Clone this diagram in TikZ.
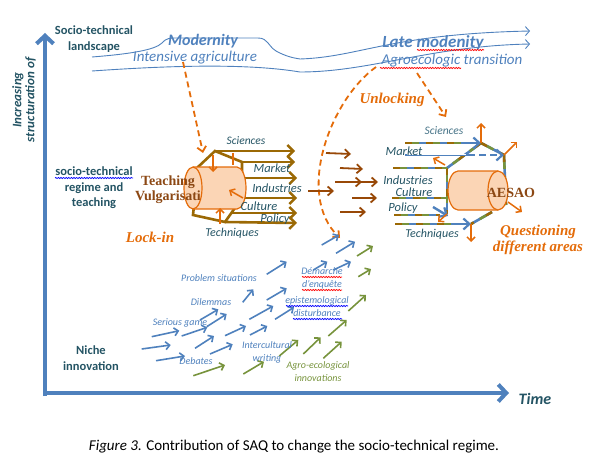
\documentclass[tikz,border=0pt]{standalone}
\usepackage{fontspec}
\setmainfont{Carlito}
\newfontfamily\cambria{Liberation Serif}
\usetikzlibrary{arrows.meta,decorations.pathmorphing}
\definecolor{axisblue}{RGB}{79,129,189}
\definecolor{darkteal}{RGB}{36,84,100}
\definecolor{softteal}{RGB}{70,115,135}
\definecolor{lockorange}{RGB}{228,108,10}
\definecolor{peach}{RGB}{251,213,181}
\definecolor{prism}{RGB}{155,105,5}
\definecolor{rust}{RGB}{152,72,7}
\definecolor{leaf}{RGB}{119,147,60}
\definecolor{serifbrown}{RGB}{140,72,20}
\newcommand\setsz[1]{\fontsize{#1}{#1}\selectfont}
\begin{document}
\begin{tikzpicture}[x=1pt,y=-1pt,
		axis/.style={line width=4.5pt,axisblue,-{Straight Barb[length=8pt,width=17pt,line width=4pt]}},
		band/.style={line width=0.9pt,axisblue,-{Straight Barb[length=4pt,width=9pt,line width=0.9pt]}},
		push/.style={line width=1.8pt,lockorange,dash pattern=on 6pt off 4pt,-{Straight Barb[length=5pt,width=9pt,line width=1.8pt]}},
		spike/.style={line width=1.5pt,lockorange,-{Straight Barb[length=4pt,width=8pt,line width=1.5pt]}},
		regime/.style={line width=2.6pt,prism,-{Straight Barb[length=6pt,width=12pt,line width=2.4pt]}},
		drift/.style={line width=1.8pt,rust,-{Straight Barb[length=5pt,width=9pt,line width=1.8pt]}},
		mix/.style={line width=2.6pt,axisblue,postaction={draw=prism,dash pattern=on 7pt off 14pt},postaction={draw=leaf,dash pattern=on 7pt off 14pt,dash phase=14pt}},
		bluehead/.style={line width=2.4pt,axisblue,-{Straight Barb[length=6pt,width=11pt,line width=2.2pt]}},
		seedb/.style={line width=1.6pt,axisblue,-{Straight Barb[length=4pt,width=8pt,line width=1.6pt]}},
		seedg/.style={line width=1.6pt,leaf,-{Straight Barb[length=4pt,width=8pt,line width=1.6pt]}},
		wavy/.style={decorate,decoration={snake,amplitude=0.6pt,segment length=2.6pt},line width=0.7pt},
		cyl/.style={draw=lockorange,fill=peach,line width=1.2pt},
		lbl/.style={font=\itshape\setsz{12.5},darkteal,inner sep=0pt},
		niche/.style={font=\itshape\setsz{10},axisblue,inner sep=0pt},
		title/.style={font=\bfseries\setsz{12.5},darkteal,align=center,inner sep=0pt},
		hint/.style={font=\cambria\bfseries\itshape\setsz{15},lockorange,align=center,inner sep=0pt}]
	\useasboundingbox (0,0) rectangle (596,465);

	% axes
	\coordinate (origin) at (45,393);
	\draw[axis] (45,396) -- (45,33);
	\draw[axis] (43,393) -- (509,393);
	\node[rotate=90,align=center,font=\bfseries\itshape\setsz{13},darkteal] (yaxis) at (24,100) {Increasing\\structuration of};
	\node[font=\bfseries\itshape\setsz{16},darkteal,inner sep=0pt] (time) at (535,399) {Time};

	% landscape
	\node[title] (land) at (94,39) {Socio-technical\\[3pt]landscape};
	\draw[band] (92,57) .. controls (130,54) and (155,50) .. (162,43) .. controls (166,38) and (170,38) .. (178,38) -- (258,38) .. controls (268,38) and (268,46) .. (276,51) .. controls (285,56) and (293,58) .. (300,59) .. controls (360,57) and (390,34) .. (530,31);
	\draw[band] (92,71) .. controls (150,67) and (240,62) .. (300,72) .. controls (370,72) and (430,46) .. (530,44);
	\node[font=\bfseries\itshape\setsz{16},axisblue,inner sep=0pt] (modern) at (203,41) {Modernity};
	\node[font=\itshape\setsz{15},axisblue,inner sep=0pt] (intens) at (195,58) {Intensive agriculture};
	\node[font=\bfseries\itshape\setsz{17},axisblue,inner sep=0pt] (late) at (433,43) {Late modenity};
	\node[font=\itshape\setsz{15},axisblue,inner sep=0pt] (agro) at (452,61) {Agroecologic transition};
	\draw[wavy,red] (417,50) -- (484,50);
	\draw[wavy,red] (380,68) -- (461,68);

	% pressure from landscape
	\draw[push] (183,62) -- (203,153);
	\draw[push] (376,67) .. controls (330,100) and (295,195) .. (340,238);
	\draw[push] (417,73) -- (446,117);
	\node[hint] (unlock) at (392,100) {Unlocking};
	\node[hint] (lockin) at (150,237) {Lock-in};
	\node[hint] (question) at (538,240) {Questioning\\[1pt]different areas};

	% regime and teaching
	\node[title] (regime) at (94,188) {socio-technical\\[3pt]regime and\\[3pt]teaching};
	\draw[wavy,blue] (55,178) -- (133,178);
	\draw[line width=2.6pt,prism] (215,151) -- (242,162) -- (242,198) -- (225,222) -- (193,215) -- (198,167) -- cycle;
	\draw[regime] (215,151) -- (295,151);
	\draw[regime] (242,162) -- (295,162);
	\draw[regime] (242,178) -- (297,178);
	\draw[regime] (242,198) -- (297,198);
	\draw[regime] (232,213) -- (297,213);
	\draw[regime] (225,222) -- (297,223);
	\draw[cyl] (193,167) -- (237,167) arc (-90:90:9 and 21) -- (193,209);
	\draw[cyl] (193,188) ellipse (9 and 21);
	\draw[spike] (213,155) -- (213,172);
	\draw[line width=1.5pt,lockorange] (233,153) -- (233,165);
	\draw[spike] (243,198) -- (229,190);
	\draw[spike] (220,224) -- (220,208);
	\node[font=\cambria\bfseries\setsz{14},serifbrown,align=center,inner sep=0pt] (teach) at (168,190) {Teaching\\[1pt]Vulgarisati};
	\node[lbl,font=\itshape\setsz{11.5}] (lsci) at (246,141) {Sciences};
	\node[lbl] (lmark) at (272,168) {Market};
	\node[lbl] (lind) at (277,188) {Industries};
	\node[lbl] (lcult) at (259,206) {Culture};
	\node[lbl] (lpol) at (275,219) {Policy};
	\node[lbl,font=\itshape\setsz{12}] (ltech) at (232,233) {Techniques};

	% drift towards the new regime
	\draw[drift] (326,153) -- (351,154);
	\draw[drift] (340,168) -- (363,169);
	\draw[drift] (335,182) -- (362,182);
	\draw[drift] (352,182) -- (378,182);
	\draw[drift] (352,198) -- (377,198);
	\draw[drift] (340,212) -- (366,212);
	\draw[drift] (308,191) -- (334,191);

	% AESAO regime
	\draw[mix] (481,143) -- (447,168);
	\draw[mix] (447,168) -- (447,214);
	\draw[mix] (504,155) -- (506,205);
	\draw[mix] (492,212) -- (471,224);
	\draw[mix] (481,143) -- (504,155);
	\draw[mix] (405,143) -- (470,143);
	\draw[bluehead] (466,143) -- (481,143);
	\draw[line width=2.6pt,axisblue] (405,155) -- (468,155);
	\draw[line width=1pt,white] (407,155) -- (466,155);
	\draw[bluehead,dash pattern=on 7pt off 4pt] (468,155) -- (504,155);
	\draw[mix] (393,168) -- (447,168);
	\draw[mix] (392,198) -- (447,198);
	\draw[mix] (394,215) -- (440,215);
	\draw[bluehead] (433,207) -- (448,216);
	\draw[mix] (395,224) -- (458,224);
	\draw[bluehead] (454,224) -- (471,224);
	\draw[cyl] (498,171) -- (458,171) arc (-90:-270:10 and 19.5) -- (498,210);
	\draw[cyl] (498,190.5) ellipse (10 and 19.5);
	\node[font=\cambria\bfseries\setsz{14},serifbrown,inner sep=0pt] (aesao) at (511,193) {AESAO};
	\draw[spike] (481,143) -- (481,123);
	\draw[spike] (504,155) -- (517,142);
	\draw[spike] (508,202) -- (522,212);
	\draw[spike] (471,224) -- (471,242);
	\draw[spike] (445,165) -- (433,158);
	\draw[spike] (447,214) -- (438,222);
	\node[lbl,font=\itshape\setsz{11.5},softteal] (rsci) at (444,131) {Sciences};
	\node[lbl] (rmark) at (404,151) {Market};
	\node[lbl] (rind) at (408,180) {Industries};
	\node[lbl] (rcult) at (414,192) {Culture};
	\node[lbl] (rpol) at (403,208) {Policy};
	\node[lbl,font=\itshape\setsz{12}] (rtech) at (432,234) {Techniques};

	% niche innovations
	\node[title,font=\bfseries\setsz{12.5}] (niche) at (91,358) {Niche\\[3pt]innovation};
	\foreach \ax/\ay/\bx/\by in {141.7/349/170.7/345, 151.7/336.7/179.3/330.7, 156/360.7/185/356,
		181.7/336/207.3/327.3, 200/320/218.3/309.3, 206.7/326.7/226.7/314, 195/348.3/214/336,
		210/354/232.7/344.3, 225/335.7/246/326, 242.7/302.3/253.3/289.3, 249.3/319.3/273.3/306,
		250/335/267.3/326, 266.7/274.3/286.7/261.7, 266.7/300/286.7/288.3, 275/319.3/294/307.3,
		313.3/270/327.3/261.7, 333.3/270/351/261.7, 321.7/245/339/235, 336/253.3/355/241.7}
		\draw[seedb] (\ax,\ay) -- (\bx,\by);
	\foreach \ax/\ay/\bx/\by in {193.3/375.7/225/365, 243.3/374/264/361.7, 279.3/356/298.3/340,
		303.3/354/320.7/337.3, 323.3/358.3/341.7/341.7, 328.3/336/346.7/320, 348.3/311/366/295,
		358.3/276.7/371/269, 357/256/373/246}
		\draw[seedg] (\ax,\ay) -- (\bx,\by);
	\node[niche] (probsit) at (219,278) {Problem situations};
	\node[niche] (dilem) at (211,302) {Dilemmas};
	\node[niche] (game) at (180,323) {Serious game};
	\node[niche] (debate) at (196,361) {Debates};
	\node[niche,align=center] (intercult) at (267,352) {Intercultural\\[3pt]writing};
	\node[niche,align=center] (enquete) at (322,278) {Démarche\\[3pt]d'enquête};
	\node[niche,align=center] (episte) at (317,307) {epistemological\\[3pt]disturbance};
	\node[niche,align=center,leaf] (agroinno) at (318,372) {Agro-ecological\\[3pt]innovations};
	\draw[wavy,red] (302,277) -- (342,277);
	\draw[wavy,red] (302,290) -- (342,290);
	\draw[wavy,blue] (286,306) -- (348,306);
	\draw[wavy,blue] (293,319) -- (342,319);

	% caption
	\node[font=\setsz{15},inner sep=0pt] (caption) at (294,447) {\textit{Figure 3.} Contribution of SAQ to change the socio-technical regime.};
\end{tikzpicture}
\end{document}
